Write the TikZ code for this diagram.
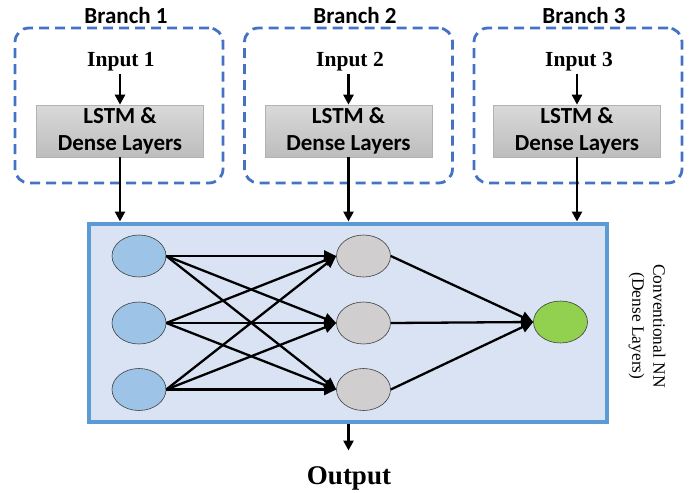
\documentclass[tikz,border=0pt]{standalone}
\usepackage{fontspec}
\setmainfont{Liberation Serif}
\newfontfamily\carlito{Carlito}
\usetikzlibrary{arrows.meta,shapes.geometric}
\definecolor{BranchEdge}{HTML}{4472C4}
\definecolor{LayerFill}{HTML}{DAE3F3}
\definecolor{LayerEdge}{HTML}{5B9BD5}
\definecolor{InNeuron}{HTML}{9DC3E6}
\definecolor{HidNeuron}{HTML}{D0CECE}
\definecolor{OutNeuron}{HTML}{92D050}
\definecolor{BlockTop}{HTML}{D9D9D9}
\definecolor{BlockBot}{HTML}{BDBDBD}
\tikzset{
  branch frame/.style={
    draw=BranchEdge, line width=2.8pt, dash pattern=on 10pt off 6pt,
    rounded corners=14pt, minimum width=208, minimum height=155
  },
  branch title/.style={font=\carlito\bfseries\fontsize{23}{26}\selectfont},
  input name/.style={font=\bfseries\fontsize{21.5}{24}\selectfont, inner sep=2pt},
  lstm block/.style={
    draw=black!30, line width=0.6pt, top color=BlockTop, bottom color=BlockBot,
    minimum width=167, minimum height=52, align=center, inner sep=0pt,
    font=\carlito\bfseries\fontsize{23}{27}\selectfont
  },
  dense box/.style={
    draw=LayerEdge, fill=LayerFill, line width=4pt,
    minimum width=518, minimum height=198
  },
  neuron/.style={
    ellipse, draw=black!75, line width=0.6pt, inner sep=0pt,
    minimum width=54, minimum height=42
  },
  feed arr/.style={-{Triangle[length=10pt, width=10pt]}, line width=2.5pt},
  nn arr/.style={-{Triangle[length=12pt, width=11pt]}, line width=2.3pt}
}
\begin{document}
\begin{tikzpicture}[x=1pt, y=-1pt]
  \useasboundingbox (0,0) rectangle (694,493);

  % branches: frame, title, input and LSTM block
  \node[branch frame] (frame1) at (119,105.5) {};
  \node[branch frame] (frame2) at (348.5,105.5) {};
  \node[branch frame] (frame3) at (578,105.5) {};

  \node[branch title] (title1) at (126,16) {Branch 1};
  \node[branch title] (title2) at (355,16) {Branch 2};
  \node[branch title] (title3) at (584,16) {Branch 3};

  \node[input name] (inp1) at (121,62) {Input 1};
  \node[input name] (inp2) at (350,62) {Input 2};
  \node[input name] (inp3) at (579,62) {Input 3};

  \node[lstm block] (lstm1) at (120,131) {LSTM \&\\Dense Layers};
  \node[lstm block] (lstm2) at (348.5,131) {LSTM \&\\Dense Layers};
  \node[lstm block] (lstm3) at (577,131) {LSTM \&\\Dense Layers};

  \draw[feed arr] (inp1.south -| lstm1) -- (lstm1.north);
  \draw[feed arr] (inp2.south -| lstm2) -- (lstm2.north);
  \draw[feed arr] (inp3.south -| lstm3) -- (lstm3.north);

  % dense part
  \node[dense box] (dense) at (347.5,322.5) {};
  \draw[feed arr] (lstm1) -- (lstm1 |- dense.north);
  \draw[feed arr] (lstm2) -- (lstm2 |- dense.north);
  \draw[feed arr] (lstm3) -- (lstm3 |- dense.north);

  \node[neuron, fill=InNeuron] (in1) at (139,256) {};
  \node[neuron, fill=InNeuron] (in2) at (139,323) {};
  \node[neuron, fill=InNeuron] (in3) at (139,389.5) {};
  \node[neuron, fill=HidNeuron] (hid1) at (363.5,256) {};
  \node[neuron, fill=HidNeuron] (hid2) at (363.5,323) {};
  \node[neuron, fill=HidNeuron] (hid3) at (363.5,389.5) {};
  \node[neuron, fill=OutNeuron] (out) at (560.5,322) {};

  \draw[nn arr] (in1.east) -- (hid1.west);
  \draw[nn arr] (in1.east) -- (hid2.west);
  \draw[nn arr] (in1.east) -- (hid3.west);
  \draw[nn arr] (in2.east) -- (hid1.west);
  \draw[nn arr] (in2.east) -- (hid2.west);
  \draw[nn arr] (in2.east) -- (hid3.west);
  \draw[nn arr] (in3.east) -- (hid1.west);
  \draw[nn arr] (in3.east) -- (hid2.west);
  \draw[nn arr] (in3.east) -- (hid3.west);
  \draw[nn arr] (hid1.east) -- (out.west);
  \draw[nn arr] (hid2.east) -- (out.west);
  \draw[nn arr] (hid3.east) -- (out.west);

  \node[rotate=-90, align=center, font=\fontsize{17.4}{21}\selectfont] (nnlabel)
    at (647,326) {Conventional NN\\(Dense Layers)};

  % output
  \node[font=\bfseries\fontsize{27}{30}\selectfont, inner sep=2pt] (outlbl)
    at (349,478) {Output};
  \draw[feed arr] (dense.south -| lstm2) -- ++(0,27);
\end{tikzpicture}
\end{document}
